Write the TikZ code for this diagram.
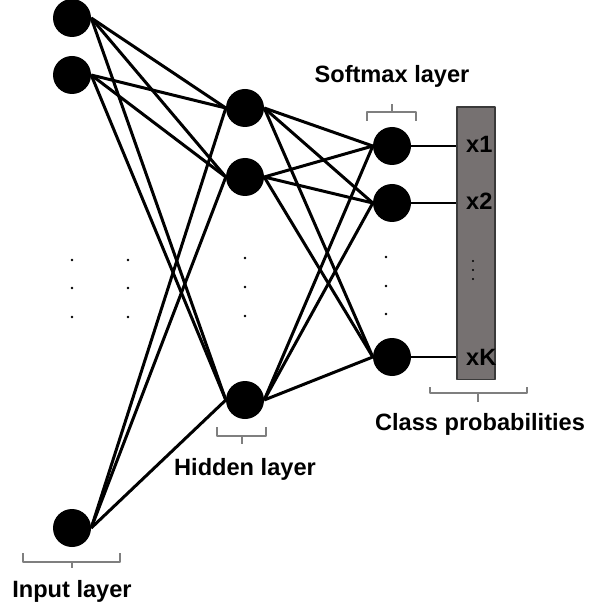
\documentclass[tikz,border=0pt]{standalone}
\usepackage{fontspec}
\setmainfont{Liberation Sans}
\usepackage{tikz}
\usetikzlibrary{positioning}
\definecolor{bracegray}{HTML}{7F7F7F}
\definecolor{boxgray}{HTML}{767171}
\definecolor{boxedge}{HTML}{3A3A3A}
\tikzset{
  unit/.style     = {circle, fill=black, minimum size=38pt, inner sep=0pt},
  link/.style     = {draw=black, line width=3pt},
  outlink/.style  = {draw=black, line width=2.5pt},
  bracket/.style  = {draw=bracegray, line width=2.8pt},
  lab/.style      = {font=\fontsize{23.6}{26}\selectfont\bfseries,
                     inner sep=0pt, anchor=base},
  probbox/.style  = {rectangle, fill=boxgray, draw=boxedge, line width=1.6pt,
                     minimum width=38pt, minimum height=272pt, inner sep=0pt},
}

\begin{document}
\begin{tikzpicture}[x=1pt, y=-1pt, line join=round]
  \useasboundingbox (0,0) rectangle (588,609);
  \node[unit] (i1) at (72,18) {};
  \node[unit] (i2) at (72,75) {};
  \node[unit] (i3) at (72,528) {};
  \node[unit] (h1) at (245,108) {};
  \node[unit] (h2) at (245,177) {};
  \node[unit] (h3) at (245,400) {};
  \node[unit] (s1) at (392,146) {};
  \node[unit] (s2) at (392,203) {};
  \node[unit] (s3) at (392,357) {};
  \node[probbox] (probs) at (476,243.3) {};
  \foreach \a in {i1,i2,i3}{\foreach \b in {h1,h2,h3}{\draw[link] (\a.east) -- (\b.west);}}
  \foreach \a in {h1,h2,h3}{\foreach \b in {s1,s2,s3}{\draw[link] (\a.east) -- (\b.west);}}
  \foreach \a in {s1,s2,s3}{\draw[outlink] (\a.east) -- (\a.east -| probs.west);}
  \foreach \x in {72,128}{\foreach \y in {260,288,317}{\fill (\x,\y) circle (1.4);}}
  \foreach \y in {258,287,316}{\fill (245,\y) circle (1.4);}
  \foreach \y in {257,286,314}{\fill (386,\y) circle (1.4);}
  \foreach \y in {261,270,279}{\fill (473,\y) circle (1.2);}
  \node[lab, anchor=base west] (x1) at (466,152.7) {x1};
  \node[lab, anchor=base west] (x2) at (466,209.3) {x2};
  \node[lab, anchor=base west] (xk) at (466,365) {xK};
  \draw[bracket] (23,553) -- (23,562) -- (120,562) -- (120,553) (72,562) -- (72,568);
  \draw[bracket] (217,427) -- (217,436) -- (266,436) -- (266,427) (242,436) -- (242,444);
  \draw[bracket] (367,121) -- (367,112) -- (416,112) -- (416,121) (392,112) -- (392,104);
  \draw[bracket] (430,387) -- (430,393) -- (527,393) -- (527,387) (478,393) -- (478,402);
  \node[lab] (inlab) at (72,597.7) {Input layer};
  \node[lab] (hidlab) at (245,475) {Hidden layer};
  \node[lab] (softlab) at (392,82.3) {Softmax layer};
  \node[lab] (classlab) at (480,430.7) {Class probabilities};
\end{tikzpicture}
\end{document}
